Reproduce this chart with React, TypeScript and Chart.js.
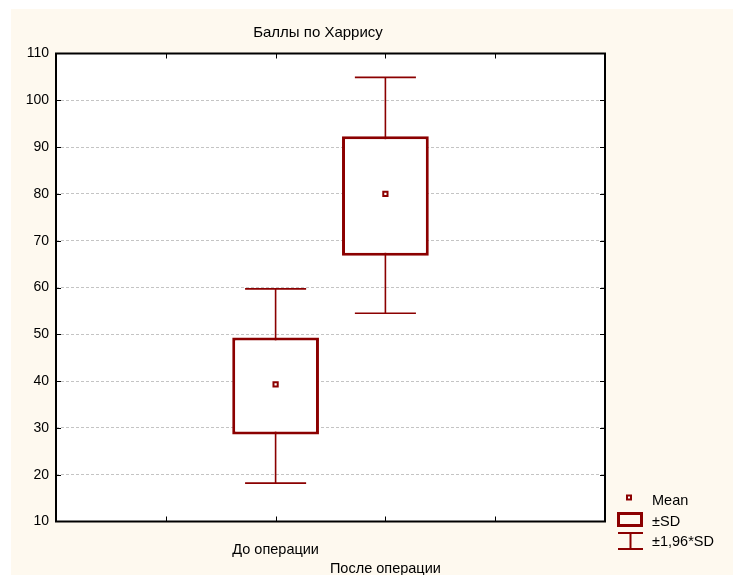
import { useEffect, useRef } from 'react';
import { Chart, registerables } from 'chart.js';

Chart.register(...registerables);

const chartTitle = 'Баллы по Харрису';
const categories = ['До операции', 'После операции'];
const means = [39.3, 80.0];
const sdLow = [28.6, 66.8];
const sdHigh = [49.3, 92.3];
const ciLow = [18.2, 54.5];
const ciHigh = [59.7, 104.9];
const yMin = 10;
const yMax = 110;
const yStep = 10;
const legendLabels = ['Mean', '±SD', '±1,96*SD'];

const RED = '#8B0000';
const CREAM = '#FEF9EF';
const FONT = '"Liberation Sans", Arial, sans-serif';

// two empty slots on each side of the categories on the x axis
const axisLabels = ['', '', ...categories, '', ''];
const pad = (arr: any[]) => [null, null, ...arr, null, null];

export default function App() {
  const ref = useRef<HTMLCanvasElement | null>(null);

  useEffect(() => {
    document.body.style.margin = '0';
    const canvas = ref.current;
    if (!canvas) return;

    const background = {
      id: 'background',
      beforeDraw(chart: any) {
        const { ctx, chartArea: a } = chart;
        ctx.save();
        ctx.fillStyle = '#ffffff';
        ctx.fillRect(0, 0, chart.width, chart.height);
        ctx.fillStyle = CREAM;
        ctx.fillRect(11, 9, chart.width - 11, chart.height - 9);
        ctx.fillStyle = '#ffffff';
        ctx.fillRect(a.left, a.top, a.right - a.left, a.bottom - a.top);
        ctx.restore();
      },
    };

    const whiskers = {
      id: 'whiskers',
      beforeDatasetsDraw(chart: any) {
        const { ctx } = chart;
        const xs = chart.scales.x;
        const ys = chart.scales.y;
        const step = xs.getPixelForValue(1) - xs.getPixelForValue(0);
        const half = step * 0.278;
        ctx.save();
        ctx.strokeStyle = RED;
        ctx.lineWidth = 1.6;
        categories.forEach((_, i) => {
          const x = xs.getPixelForValue(i + 2);
          const y1 = ys.getPixelForValue(ciLow[i]);
          const y2 = ys.getPixelForValue(ciHigh[i]);
          ctx.beginPath();
          ctx.moveTo(x, y1);
          ctx.lineTo(x, y2);
          ctx.moveTo(x - half, y1);
          ctx.lineTo(x + half, y1);
          ctx.moveTo(x - half, y2);
          ctx.lineTo(x + half, y2);
          ctx.stroke();
        });
        ctx.restore();
      },
    };

    const frame = {
      id: 'frame',
      afterDraw(chart: any) {
        const { ctx, chartArea: a } = chart;
        const xs = chart.scales.x;
        const ys = chart.scales.y;
        ctx.save();
        ctx.strokeStyle = '#000';
        ctx.lineWidth = 1;
        const tl = 5;
        ctx.beginPath();
        ys.ticks.forEach((t: any) => {
          if (t.value === yMin || t.value === yMax) return;
          const y = Math.round(ys.getPixelForValue(t.value)) + 0.5;
          ctx.moveTo(a.left, y);
          ctx.lineTo(a.left + tl, y);
          ctx.moveTo(a.right, y);
          ctx.lineTo(a.right - tl, y);
        });
        for (let i = 1; i < axisLabels.length - 1; i++) {
          const x = Math.round(xs.getPixelForValue(i)) + 0.5;
          ctx.moveTo(x, a.top);
          ctx.lineTo(x, a.top + tl);
          ctx.moveTo(x, a.bottom);
          ctx.lineTo(x, a.bottom - tl);
        }
        ctx.stroke();
        ctx.lineWidth = 2;
        ctx.strokeRect(a.left, a.top, a.right - a.left, a.bottom - a.top);

        // title
        ctx.fillStyle = '#000';
        ctx.font = `15px ${FONT}`;
        ctx.textAlign = 'center';
        ctx.textBaseline = 'middle';
        ctx.fillText(chartTitle, 318, 33);

        // legend
        const lx = a.right + 12;
        ctx.strokeStyle = RED;
        ctx.lineWidth = 2;
        ctx.fillStyle = '#fff';
        ctx.fillRect(lx + 10, 495.5, 4, 4);
        ctx.strokeRect(lx + 10, 495.5, 4, 4);
        ctx.lineWidth = 3;
        ctx.strokeRect(lx + 1.5, 513.5, 23, 12);
        ctx.lineWidth = 2;
        ctx.beginPath();
        ctx.moveTo(lx + 1, 533);
        ctx.lineTo(lx + 26, 533);
        ctx.moveTo(lx + 1, 549);
        ctx.lineTo(lx + 26, 549);
        ctx.moveTo(lx + 13.5, 533);
        ctx.lineTo(lx + 13.5, 549);
        ctx.stroke();
        ctx.fillStyle = '#000';
        ctx.font = `14.5px ${FONT}`;
        ctx.textAlign = 'left';
        const ly = [500.5, 521.5, 541.5];
        legendLabels.forEach((s, i) => ctx.fillText(s, lx + 35, ly[i]));
        ctx.restore();
      },
    };

    const chart = new Chart(canvas, {
      type: 'bar',
      data: {
        labels: axisLabels,
        datasets: [
          {
            type: 'line',
            label: legendLabels[0],
            data: pad(means),
            showLine: false,
            pointStyle: 'rect',
            pointRadius: 3,
            pointBorderWidth: 2,
            pointBorderColor: RED,
            pointBackgroundColor: '#fff',
            order: 0,
          } as any,
          {
            type: 'bar',
            label: legendLabels[1],
            data: pad(categories.map((_, i) => [sdLow[i], sdHigh[i]])),
            backgroundColor: '#fff',
            borderColor: RED,
            borderWidth: 3,
            borderSkipped: false,
            categoryPercentage: 1,
            barPercentage: 0.79,
            order: 1,
          } as any,
        ],
      },
      options: {
        responsive: false,
        animation: false,
        events: [],
        layout: { padding: { left: 0, top: 53.5, right: 128, bottom: 0 } },
        plugins: {
          legend: { display: false },
          title: { display: false },
          tooltip: { enabled: false },
        },
        scales: {
          x: {
            type: 'category',
            offset: false,
            grid: { display: false, offset: false },
            border: { display: false },
            ticks: {
              autoSkip: false,
              maxRotation: 0,
              padding: 10.5,
              color: '#000',
              font: { family: FONT, size: 14.5, lineHeight: 1.33 },
              callback: (_v: any, i: number) => {
                const s = axisLabels[i];
                if (!s) return '';
                return (i - 2) % 2 === 1 ? ['', s] : [s];
              },
            },
            afterFit: (s: any) => {
              s.height = 53.5;
            },
          },
          y: {
            min: yMin,
            max: yMax,
            grid: {
              drawTicks: false,
              lineWidth: 1,
              color: (c: any) =>
                c.tick && (c.tick.value === yMin || c.tick.value === yMax)
                  ? 'rgba(0,0,0,0)'
                  : '#c4c4c4',
            },
            border: { display: false, dash: [3, 2] },
            ticks: {
              stepSize: yStep,
              padding: 7,
              color: '#000',
              font: { family: FONT, size: 14 },
            },
            afterFit: (s: any) => {
              s.width = 56;
            },
          },
        },
      },
      plugins: [background, whiskers, frame],
    });

    return () => chart.destroy();
  }, []);

  return <canvas ref={ref} width={733} height={575} style={{ display: 'block' }} />;
}
